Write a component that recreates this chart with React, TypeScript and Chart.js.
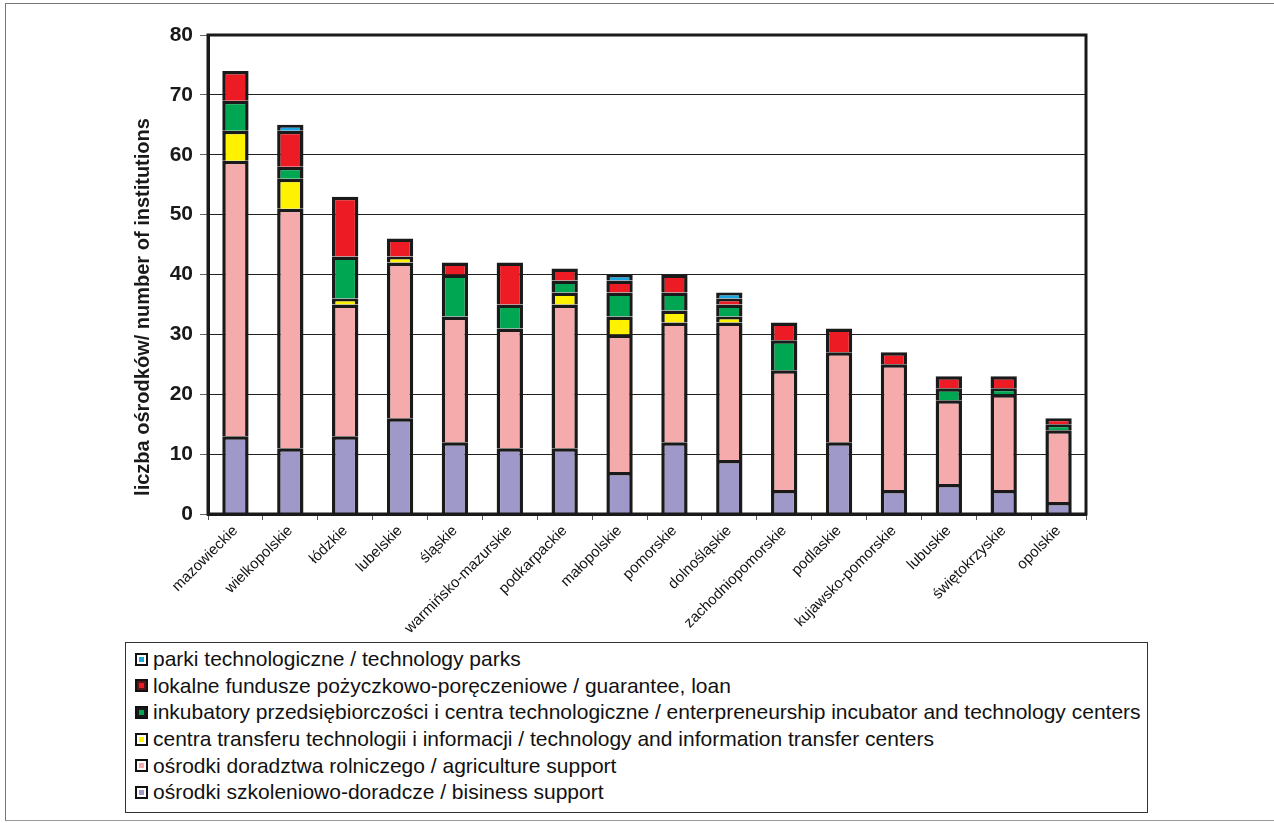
import React, { useEffect, useRef } from "react";
import { Chart, registerables } from "chart.js";

Chart.register(...registerables);

const categories = [
  "mazowieckie", "wielkopolskie", "łódzkie", "lubelskie", "śląskie",
  "warmińsko-mazurskie", "podkarpackie", "małopolskie", "pomorskie", "dolnośląskie",
  "zachodniopomorskie", "podlaskie", "kujawsko-pomorskie", "lubuskie", "świętokrzyskie", "opolskie",
];

const business = [13, 11, 13, 16, 12, 11, 11, 7, 12, 9, 4, 12, 4, 5, 4, 2];
const agriculture = [46, 40, 22, 26, 21, 20, 24, 23, 20, 23, 20, 15, 21, 14, 16, 12];
const transfer = [5, 5, 1, 1, 0, 0, 2, 3, 2, 1, 0, 0, 0, 0, 0, 0];
const incubators = [5, 2, 7, 0, 7, 4, 2, 4, 3, 2, 5, 0, 0, 2, 1, 1];
const loans = [5, 6, 10, 3, 2, 7, 2, 2, 3, 1, 3, 4, 2, 2, 2, 1];
const parks = [0, 1, 0, 0, 0, 0, 0, 1, 0, 1, 0, 0, 0, 0, 0, 0];

const seriesLabels = [
  "ośrodki szkoleniowo-doradcze / bisiness support",
  "ośrodki doradztwa rolniczego / agriculture support",
  "centra transferu technologii i informacji / technology and information transfer centers",
  "inkubatory przedsiębiorczości i centra technologiczne / enterpreneurship incubator and technology centers",
  "lokalne fundusze pożyczkowo-poręczeniowe / guarantee, loan",
  "parki technologiczne / technology parks",
];
const seriesColors = ["#9f99c9", "#f5abac", "#fff200", "#00a651", "#ed1c24", "#1ea5de"];
const legendBackgrounds = ["#ffffff", "#ffffff", "#ffffff", "#1a1a1a", "#5c1416", "#ffffff"];

const yTicks = [0, 10, 20, 30, 40, 50, 60, 70, 80];
const yTitle = "liczba ośrodków/ number of institutions";

const FONT = '"Liberation Sans", Arial, sans-serif';

export default function App() {
  const canvasRef = useRef<HTMLCanvasElement | null>(null);

  useEffect(() => {
    const seriesValues = [business, agriculture, transfer, incubators, loans, parks];
    const frameAndTitle = {
      id: "frameAndTitle",
      afterDatasetsDraw(chart: any) {
        const { ctx, chartArea } = chart;
        ctx.save();
        ctx.strokeStyle = "#1a1a1a";
        ctx.lineWidth = 3;
        ctx.strokeRect(chartArea.left, chartArea.top, chartArea.right - chartArea.left, chartArea.bottom - chartArea.top);
        ctx.restore();
      },
      afterDraw(chart: any) {
        const { ctx } = chart;
        ctx.save();
        ctx.translate(143, 307);
        ctx.rotate(-Math.PI / 2);
        ctx.font = `bold 20px ${FONT}`;
        ctx.fillStyle = "#1a1a1a";
        ctx.textAlign = "center";
        ctx.textBaseline = "middle";
        ctx.fillText(yTitle, 0, 0);
        ctx.restore();
      },
    };

    const chart = new Chart(canvasRef.current as HTMLCanvasElement, {
      type: "bar",
      data: {
        labels: categories,
        datasets: seriesValues.map((vals, i) => ({
          label: seriesLabels[i],
          data: vals.map((v) => (v === 0 ? null : v)),
          backgroundColor: seriesColors[i],
          borderColor: "#1a1a1a",
          borderWidth: 3.5,
          barPercentage: 0.48,
          categoryPercentage: 1,
        })),
      },
      options: {
        animation: false,
        responsive: true,
        maintainAspectRatio: false,
        layout: { padding: { left: 0, top: 35, right: 188, bottom: 0 } },
        plugins: { legend: { display: false }, tooltip: { enabled: false } },
        scales: {
          x: {
            stacked: true,
            grid: { drawOnChartArea: false, tickLength: 6, color: "#555", offset: true },
            border: { color: "#1a1a1a", width: 3 },
            ticks: {
              autoSkip: false,
              maxRotation: 45,
              minRotation: 45,
              padding: 2,
              color: "#111",
              font: { family: FONT, size: 15 },
            },
            afterFit(scale: any) {
              scale.height = 309;
            },
          },
          y: {
            stacked: true,
            min: 0,
            max: 80,
            afterBuildTicks(scale: any) {
              scale.ticks = yTicks.map((v) => ({ value: v }));
            },
            grid: { color: "#222", lineWidth: 1, tickLength: 8, tickColor: "#666" },
            border: { color: "#1a1a1a", width: 3 },
            ticks: {
              padding: 7,
              color: "#1a1a1a",
              font: { family: FONT, size: 21, weight: "bold" },
            },
            afterFit(scale: any) {
              scale.width = 208;
            },
          },
        },
      },
      plugins: [frameAndTitle],
    } as any);
    return () => chart.destroy();
  }, []);

  const legendOrder = [5, 4, 3, 2, 1, 0];

  return (
    <div style={{ position: "absolute", left: 0, top: 0, width: 1274, height: 823, background: "#fff", overflow: "hidden" }}>
      <div
        style={{
          position: "absolute", left: 5, top: 3, width: 1269, height: 818, boxSizing: "border-box",
          borderTop: "1.5px solid #777", borderLeft: "1.5px solid #777", borderBottom: "1.5px solid #999",
        }}
      />
      <div style={{ position: "absolute", left: 0, top: 0, width: 1274, height: 823 }}>
        <canvas ref={canvasRef} />
      </div>
      <div
        style={{
          position: "absolute", left: 125, top: 642, width: 1023, height: 171, boxSizing: "border-box",
          border: "1.5px solid #333", background: "#fff", paddingTop: 3,
          fontFamily: FONT, fontSize: 21, color: "#111",
        }}
      >
        {legendOrder.map((idx) => (
          <div key={idx} style={{ height: 26.6, display: "flex", alignItems: "center", whiteSpace: "nowrap" }}>
            <span
              style={{
                display: "inline-block", width: 13, height: 13, boxSizing: "border-box", marginLeft: 9, marginRight: 5,
                border: "2px solid #111", background: legendBackgrounds[idx], position: "relative", flexShrink: 0,
              }}
            >
              <span
                style={{
                  position: "absolute", left: 2, top: 2, width: 5, height: 5,
                  background: seriesColors[idx],
                }}
              />
            </span>
            <span>{seriesLabels[idx]}</span>
          </div>
        ))}
      </div>
    </div>
  );
}
